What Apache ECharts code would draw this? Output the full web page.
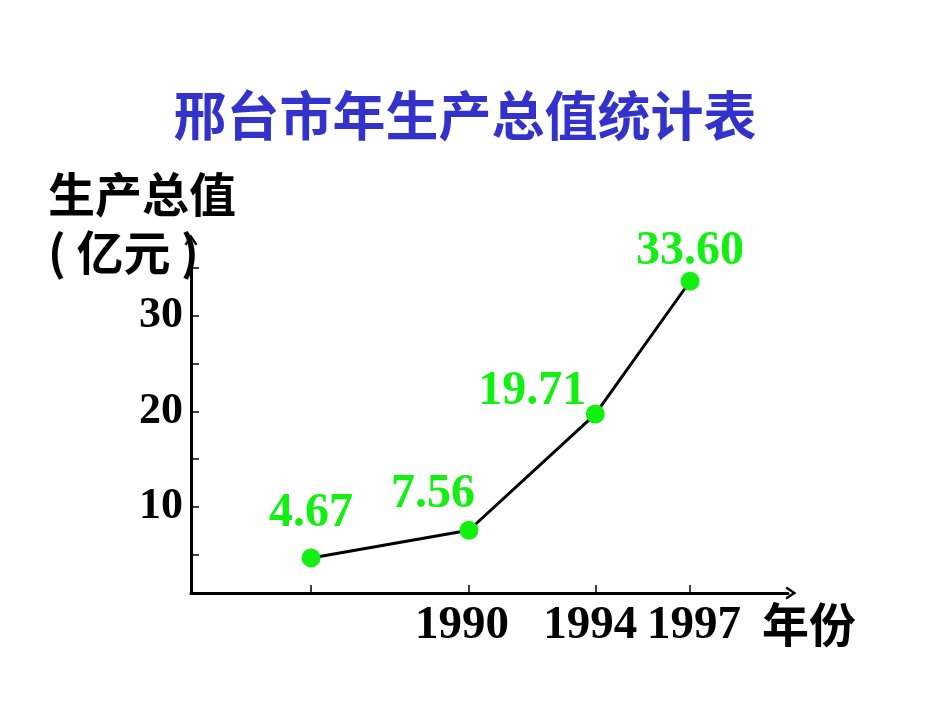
<!DOCTYPE html>
<html>
<head>
<meta charset="utf-8">
<script src="https://cdn.jsdelivr.net/npm/echarts@6/dist/echarts.min.js"></script>
<style>
html,body{margin:0;padding:0;background:#fff;}
#chart{width:950px;height:713px;}
</style>
</head>
<body>
<div id="chart"></div>
<script>
// ---- data ----
const years = [1985, 1990, 1994, 1997];
const gdpValues = [4.67, 7.56, 19.71, 33.60];
const valueLabels = ['4.67', '7.56', '19.71', '33.60'];
const xTickValues = [1985, 1990, 1994, 1997];
const xTickLabels = [1990, 1994, 1997];
const yTickValues = [5, 10, 15, 20, 25, 30, 35];
const yTickLabels = [10, 20, 30];
const titleText = '邢台市年生产总值统计表';
const yNameLine1 = '生产总值';
const yNameLine2 = '( 亿元 )';
const xName = '年份';

// ---- styles ----
const labelOffsets = [[0, -44], [-36, -36], [-63, -22], [0, -30]];
const xLabelPads = [[0, 14, 0, 0], [0, 10, 0, 0], [0, 0, 0, 8]];
const numFont = '"Liberation Serif", "Times New Roman", serif';
const cjkFont = '"Noto Sans CJK SC", sans-serif';
const green = '#11F011';
const chevron = 'path://M6,0 L12,9 L10.2,10.2 L6,4 L1.8,10.2 L0,9 Z';

const chart = echarts.init(document.getElementById('chart'), null, {renderer: 'canvas'});

const seriesData = years.map((y, i) => ({
  value: [y, gdpValues[i]],
  label: {offset: labelOffsets[i], formatter: valueLabels[i]}
}));

const xRich = {};
xTickLabels.forEach((v, i) => {
  xRich['p' + i] = {padding: xLabelPads[i], fontFamily: numFont, fontWeight: 'bold', fontSize: 47, color: '#000'};
});

chart.setOption({
  backgroundColor: '#ffffff',
  animation: false,
  grid: {left: 191, right: 162, top: 243, bottom: 120, containLabel: false},
  xAxis: {
    type: 'value', min: 1981.2, max: 2000.1,
    splitLine: {show: false},
    axisLine: {show: true, lineStyle: {color: '#000', width: 3},
      symbol: ['none', chevron], symbolSize: [13, 11], symbolOffset: [0, 3]},
    axisTick: {show: true, inside: true, length: 8, lineStyle: {color: '#000', width: 1.5}, customValues: xTickValues},
    axisLabel: {show: true, customValues: xTickLabels, margin: 9, color: '#000', hideOverlap: false,
      fontFamily: numFont, fontWeight: 'bold', fontSize: 47,
      formatter: v => {
        const i = xTickLabels.indexOf(Math.round(v));
        return i >= 0 ? '{p' + i + '|' + xTickLabels[i] + '}' : String(v);
      },
      rich: xRich}
  },
  yAxis: {
    type: 'value', min: 1, max: 37.6,
    splitLine: {show: false},
    axisLine: {show: true, lineStyle: {color: '#000', width: 3},
      symbol: ['none', chevron], symbolSize: [13, 11], symbolOffset: [0, 3]},
    axisTick: {show: true, inside: true, length: 8, lineStyle: {color: '#000', width: 1.5}, customValues: yTickValues},
    axisLabel: {show: true, customValues: yTickLabels, margin: 8, color: '#000',
      fontFamily: numFont, fontWeight: 'bold', fontSize: 44}
  },
  series: [{
    type: 'line',
    data: seriesData,
    symbol: 'circle',
    symbolSize: 19,
    itemStyle: {color: green},
    lineStyle: {color: '#000', width: 3},
    label: {show: true, position: 'inside', color: green, fontFamily: numFont,
      fontWeight: 'bold', fontSize: 48},
    z: 3
  }],
  graphic: [
    {type: 'text', x: 465, y: 89, style: {text: titleText, fill: '#3333CC', align: 'center',
      font: 'bold 53px ' + cjkFont}},
    {type: 'text', x: 48, y: 171, style: {text: yNameLine1, fill: '#000', font: 'bold 47px ' + cjkFont}},
    {type: 'text', x: 48, y: 229, style: {text: yNameLine2, fill: '#000', font: 'bold 47px ' + cjkFont}},
    {type: 'text', x: 762, y: 601, style: {text: xName, fill: '#000', font: 'bold 47px ' + cjkFont}}
  ]
});
</script>
</body>
</html>
